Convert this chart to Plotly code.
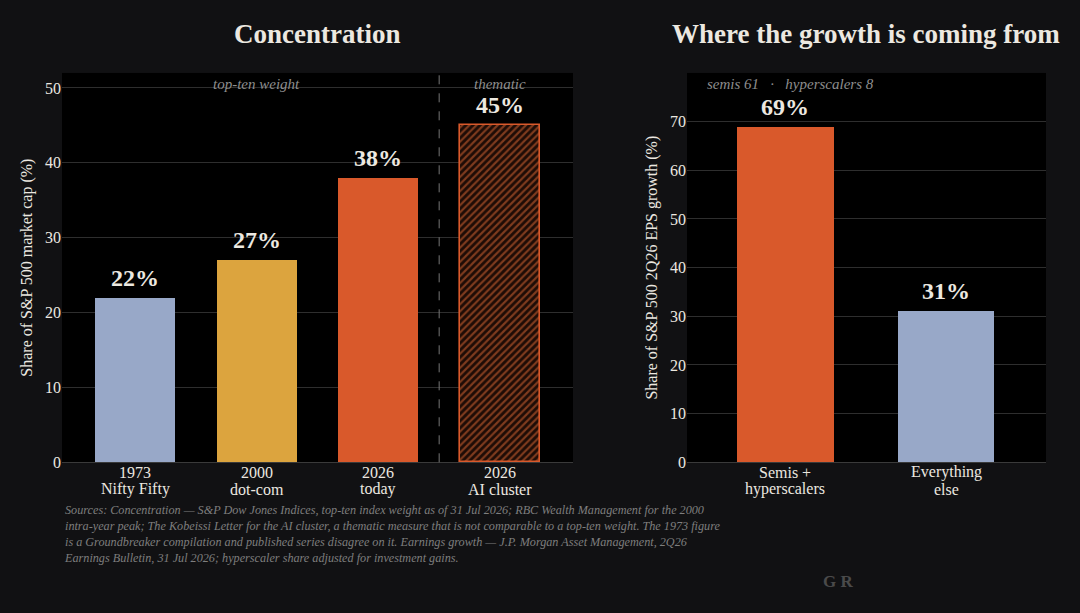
import plotly.graph_objects as go

# ---- data ----
conc_years = ["1973", "2000", "2026", "2026"]
conc_names = ["Nifty Fifty", "dot-com", "today", "AI cluster"]
conc_vals = [22, 27, 38, 45]
conc_labels = ["<b>22%</b>", "<b>27%</b>", "<b>38%</b>", "<b>45%</b>"]

growth_line1 = ["Semis +", "Everything"]
growth_line2 = ["hyperscalers", "else"]
growth_vals = [69, 31]
growth_labels = ["<b>69%</b>", "<b>31%</b>"]

BG = "#111113"
PLOT = "#000000"
TXT = "#ECE8E0"
GRID = "#2E2E2E"
BLUE = "#98A8C8"
GOLD = "#DCA43E"
ORANGE = "#D9592B"
FONT = "Liberation Serif"
H = 613


def py(p):
    """photo pixel row -> paper fraction (empirical render correction)"""
    return 1 - ((p + 1.1) / 0.987) / H


fig = go.Figure()

fig.add_trace(go.Bar(
    x=[0, 1, 2], y=conc_vals[:3], width=0.66,
    marker=dict(color=[BLUE, GOLD, ORANGE], line=dict(width=0)),
    xaxis="x", yaxis="y", showlegend=False, hoverinfo="skip",
))
fig.add_trace(go.Bar(
    x=[3], y=conc_vals[3:], width=0.66,
    marker=dict(color="#1e0c06", line=dict(width=1.6, color=ORANGE),
                pattern=dict(shape="/", fgcolor="#E06A35", bgcolor="#1e0c06", size=5, solidity=0.42)),
    xaxis="x", yaxis="y", showlegend=False, hoverinfo="skip",
))
fig.add_trace(go.Bar(
    x=[0, 1], y=growth_vals, width=0.6,
    marker=dict(color=[ORANGE, BLUE], line=dict(width=0)),
    xaxis="x2", yaxis="y2", showlegend=False, hoverinfo="skip",
))

L0, L1 = 62 / 1080, 573 / 1080
R0, R1 = 687 / 1080, 1046 / 1080
Y0, Y1 = py(462), py(72)

tickfont = dict(family=FONT, size=16, color=TXT)
valfont = dict(family=FONT, size=24, color=TXT)

fig.update_layout(
    width=1080, height=H,
    paper_bgcolor=BG, plot_bgcolor=PLOT,
    margin=dict(l=0, r=0, t=0, b=0),
    font=dict(family=FONT, color=TXT),
    bargap=0,
    xaxis=dict(domain=[L0, L1], range=[-0.6, 3.6], tickvals=[0, 1, 2, 3],
               showticklabels=False, showgrid=False, zeroline=False, ticks="",
               showline=True, linecolor="#3A3A3A", linewidth=1),
    yaxis=dict(domain=[Y0, Y1], range=[0, 52], tickvals=[0, 10, 20, 30, 40, 50],
               showgrid=True, gridcolor=GRID, gridwidth=1, zeroline=False,
               ticks="", tickfont=tickfont, showline=False,
               title=dict(text="Share of S&P 500 market cap (%)",
                          font=dict(family=FONT, size=16, color=TXT), standoff=8)),
    xaxis2=dict(domain=[R0, R1], range=[-0.61, 1.62], tickvals=[0, 1],
                showticklabels=False, showgrid=False, anchor="y2", zeroline=False, ticks="",
                showline=True, linecolor="#3A3A3A", linewidth=1),
    yaxis2=dict(domain=[Y0, Y1], range=[0, 80], tickvals=[0, 10, 20, 30, 40, 50, 60, 70],
                showgrid=True, gridcolor=GRID, gridwidth=1, anchor="x2", zeroline=False,
                ticks="", tickfont=tickfont, showline=False,
                title=dict(text="Share of S&P 500 2Q26 EPS growth (%)",
                           font=dict(family=FONT, size=16, color=TXT), standoff=8)),
)

fig.add_shape(type="line", xref="x", yref="paper", x0=2.5, x1=2.5,
              y0=Y0, y1=Y1, line=dict(color="#777777", width=1, dash="dash"))

ann = []
# value labels above bars
for i, (v, t) in enumerate(zip(conc_vals, conc_labels)):
    ann.append(dict(text=t, x=i, y=v, xref="x", yref="y", showarrow=False,
                    xanchor="center", yanchor="bottom", yshift=5, font=valfont))
for i, (v, t) in enumerate(zip(growth_vals, growth_labels)):
    ann.append(dict(text=t, x=i, y=v, xref="x2", yref="y2", showarrow=False,
                    xanchor="center", yanchor="bottom", yshift=5, font=valfont))
# category labels (two tight lines each)
for i, (a, b) in enumerate(zip(conc_years, conc_names)):
    ann.append(dict(text=a, x=i, y=py(472), xref="x", yref="paper", showarrow=False,
                    xanchor="center", yanchor="middle", font=tickfont))
    ann.append(dict(text=b, x=i, y=py(489), xref="x", yref="paper", showarrow=False,
                    xanchor="center", yanchor="middle", font=tickfont))
for i, (a, b) in enumerate(zip(growth_line1, growth_line2)):
    ann.append(dict(text=a, x=i, y=py(472), xref="x2", yref="paper", showarrow=False,
                    xanchor="center", yanchor="middle", font=tickfont))
    ann.append(dict(text=b, x=i, y=py(489), xref="x2", yref="paper", showarrow=False,
                    xanchor="center", yanchor="middle", font=tickfont))

ann.append(dict(text="<b>Concentration</b>", x=(62 + 573) / 2 / 1080, y=py(32.5),
                xref="paper", yref="paper", showarrow=False,
                font=dict(family=FONT, size=27, color=TXT), xanchor="center", yanchor="middle"))
ann.append(dict(text="<b>Where the growth is coming from</b>", x=866 / 1080, y=py(32.5),
                xref="paper", yref="paper", showarrow=False,
                font=dict(family=FONT, size=27, color=TXT), xanchor="center", yanchor="middle"))
ann.append(dict(text="<i>top-ten weight</i>", x=1, y=py(83.5), xref="x", yref="paper",
                showarrow=False, font=dict(family=FONT, size=15, color="#8E8E8E"),
                xanchor="center", yanchor="middle"))
ann.append(dict(text="<i>thematic</i>", x=3, y=py(83.5), xref="x", yref="paper",
                showarrow=False, font=dict(family=FONT, size=15, color="#8E8E8E"),
                xanchor="center", yanchor="middle"))
ann.append(dict(text="<i>semis 61   ·   hyperscalers 8</i>", x=705 / 1080, y=py(83.5),
                xref="paper", yref="paper", showarrow=False,
                font=dict(family=FONT, size=15, color="#8E8E8E"),
                xanchor="left", yanchor="middle"))
sources = ("<i>Sources: Concentration — S&P Dow Jones Indices, top-ten index weight as of 31 Jul 2026; RBC Wealth Management for the 2000<br>"
           "intra-year peak; The Kobeissi Letter for the AI cluster, a thematic measure that is not comparable to a top-ten weight. The 1973 figure<br>"
           "is a Groundbreaker compilation and published series disagree on it. Earnings growth — J.P. Morgan Asset Management, 2Q26<br>"
           "Earnings Bulletin, 31 Jul 2026; hyperscaler share adjusted for investment gains.</i>")
ann.append(dict(text=sources, x=62 / 1080, y=py(501), xref="paper", yref="paper",
                showarrow=False, align="left", xanchor="left", yanchor="top",
                font=dict(family=FONT, size=12.2, color="#7E7E7E")))
ann.append(dict(text="<b>G R</b>", x=821 / 1080, y=py(581), xref="paper", yref="paper",
                showarrow=False, xanchor="left", yanchor="middle",
                font=dict(family=FONT, size=17, color="#4A4A4A")))
fig.update_layout(annotations=ann)

fig.write_html("out.html", config={"displayModeBar": False},
               post_script="document.body.style.margin='0';document.body.style.background='#111113';")
